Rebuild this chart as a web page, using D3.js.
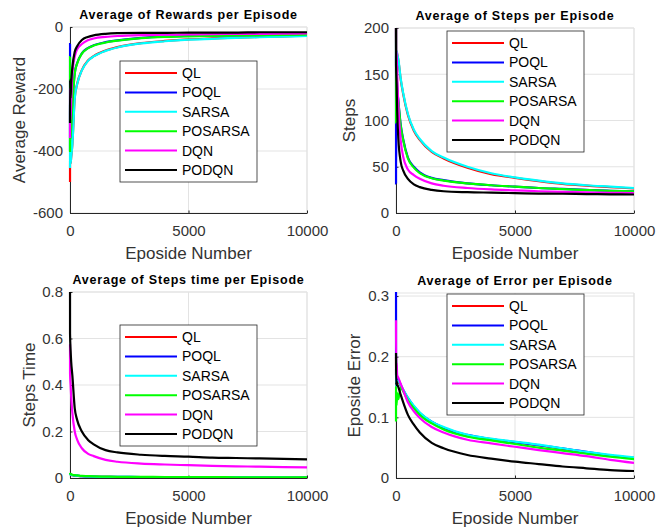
<!DOCTYPE html>
<html>
<head>
<meta charset="utf-8">
<script src="https://cdn.jsdelivr.net/npm/d3@7"></script>
<style>
  body { margin: 0; background: #fff; }
  svg { font-family: "Liberation Sans", Arial, sans-serif; }
</style>
</head>
<body>
<svg id="chart" width="657" height="532"></svg>
<script>
const episodes = [1, 2, 25, 50, 100, 200, 300, 500, 750, 1000, 1500, 2000, 3000, 4000, 5000, 6000, 7000, 8000, 9000, 10000];
const seriesNames = ["QL", "POQL", "SARSA", "POSARSA", "DQN", "PODQN"];
const seriesColors = ["#ff0000", "#0000ff", "#00ffff", "#00ff00", "#ff00ff", "#000000"];

// Average of Rewards per Episode
const rewardQL      = [-500, -300, -440, -420, -378, -228, -184, -139, -109, -94, -76, -65, -52, -45, -40, -37, -34, -32, -30, -28];
const rewardPOQL    = [-400, -55, -360, -318, -248, -149, -117, -85, -68, -59, -49, -43, -35, -31, -29, -28, -27, -26, -25, -24];
const rewardSARSA   = [-455, -250, -440, -420, -380, -230, -185, -140, -110, -95, -77, -66, -53, -46, -41, -38, -35, -33, -31, -29];
const rewardPOSARSA = [-403, -97, -360, -320, -250, -150, -118, -86, -69, -60, -50, -44, -36, -32, -30, -28.5, -27.5, -26.5, -25.5, -25];
const rewardDQN     = [-358, -200, -300, -240, -150, -95, -72, -55, -43, -37, -32, -29, -26, -25, -24, -23, -22.5, -22, -21.5, -21];
const rewardPODQN   = [-310, -170, -230, -180, -130, -80, -62, -42, -32, -27, -22, -20, -19, -19, -18, -18, -18, -17, -17, -17];

// Average of Steps per Episode
const stepsQL      = [200, 150, 175, 172, 165, 144, 129, 106, 89, 79, 66, 59, 49, 42, 38, 34.5, 31.5, 29.5, 28, 26.5];
const stepsPOQL    = [200, 32, 150, 136, 121, 95, 80, 60, 50, 44, 38, 35.5, 32, 30, 28.5, 27, 26, 25, 24, 23.5];
const stepsSARSA   = [170, 150, 175, 172, 166, 145, 130, 107, 90, 80, 67, 60, 50, 43, 38.5, 35, 32, 30, 28.5, 27];
const stepsPOSARSA = [200, 98, 150, 135, 120, 94, 79, 59, 49, 43, 37.5, 35, 32, 30, 28.5, 27, 25.8, 24.8, 24, 23.5];
const stepsDQN     = [200, 165, 175, 150, 115, 78, 61, 47, 41, 37, 32, 29.5, 27, 25.5, 24.5, 23.5, 22.8, 22.2, 21.8, 21.5];
const stepsPODQN   = [200, 160, 140, 110, 80, 55, 46, 37, 31, 28, 25, 23.5, 22.5, 22, 21.5, 21, 20.8, 20.5, 20.2, 20];

// Average of Steps time per Episode
const timeQL      = [0.018, 0.016, 0.015, 0.013, 0.012, 0.01, 0.009, 0.008, 0.007, 0.006, 0.005, 0.004, 0.004, 0.003, 0.003, 0.003, 0.003, 0.002, 0.002, 0.002];
const timePOQL    = [0.02, 0.018, 0.016, 0.015, 0.013, 0.011, 0.01, 0.008, 0.007, 0.006, 0.005, 0.005, 0.004, 0.004, 0.003, 0.003, 0.003, 0.003, 0.002, 0.002];
const timeSARSA   = [0.019, 0.017, 0.015, 0.014, 0.012, 0.011, 0.01, 0.008, 0.007, 0.006, 0.005, 0.005, 0.004, 0.004, 0.003, 0.003, 0.003, 0.003, 0.003, 0.002];
const timePOSARSA = [0.022, 0.02, 0.018, 0.016, 0.014, 0.012, 0.011, 0.009, 0.008, 0.007, 0.006, 0.005, 0.005, 0.004, 0.004, 0.004, 0.003, 0.003, 0.003, 0.003];
const timeDQN     = [0.575, 0.45, 0.4, 0.35, 0.28, 0.2, 0.165, 0.128, 0.105, 0.094, 0.078, 0.07, 0.062, 0.058, 0.055, 0.052, 0.05, 0.049, 0.047, 0.046];
const timePODQN   = [0.8, 0.62, 0.55, 0.5, 0.44, 0.3, 0.25, 0.2, 0.165, 0.145, 0.12, 0.11, 0.1, 0.095, 0.092, 0.088, 0.086, 0.084, 0.082, 0.08];

// Average of Error per Episode
const errorQL      = [0.2, 0.17, 0.16, 0.155, 0.16, 0.152, 0.145, 0.131, 0.118, 0.107, 0.092, 0.083, 0.07, 0.064, 0.059, 0.054, 0.048, 0.042, 0.037, 0.033];
const errorPOQL    = [0.31, 0.2, 0.165, 0.16, 0.162, 0.153, 0.145, 0.132, 0.118, 0.107, 0.093, 0.083, 0.071, 0.064, 0.059, 0.054, 0.049, 0.043, 0.037, 0.033];
const errorSARSA   = [0.18, 0.15, 0.155, 0.158, 0.16, 0.153, 0.146, 0.132, 0.119, 0.108, 0.093, 0.084, 0.071, 0.065, 0.06, 0.055, 0.049, 0.043, 0.038, 0.034];
const errorPOSARSA = [0.093, 0.15, 0.12, 0.14, 0.13, 0.15, 0.143, 0.128, 0.115, 0.104, 0.09, 0.08, 0.068, 0.062, 0.056, 0.05, 0.045, 0.04, 0.035, 0.031];
const errorDQN     = [0.26, 0.19, 0.19, 0.17, 0.165, 0.155, 0.145, 0.125, 0.11, 0.099, 0.084, 0.075, 0.063, 0.057, 0.0515, 0.046, 0.041, 0.036, 0.03, 0.025];
const errorPODQN   = [0.206, 0.153, 0.16, 0.155, 0.15, 0.137, 0.125, 0.104, 0.088, 0.075, 0.058, 0.049, 0.038, 0.032, 0.027, 0.023, 0.019, 0.016, 0.013, 0.0115];

const xTicks = [0, 5000, 10000];

const panels = [
  { title: "Average of Rewards per Episode", ylabel: "Average Reward",
    series: [rewardQL, rewardPOQL, rewardSARSA, rewardPOSARSA, rewardDQN, rewardPODQN],
    yDomain: [-600, 0], yTicks: [-600, -400, -200, 0],
    left: 70, top: 27, width: 237, height: 186, ylabelX: -45, legend: [50, 34] },
  { title: "Average of Steps per Episode", ylabel: "Steps",
    series: [stepsQL, stepsPOQL, stepsSARSA, stepsPOSARSA, stepsDQN, stepsPODQN],
    yDomain: [0, 200], yTicks: [0, 50, 100, 150, 200],
    left: 396, top: 28, width: 238, height: 185, ylabelX: -41, legend: [51, 3] },
  { title: "Average of Steps time per Episode", ylabel: "Steps Time",
    series: [timeQL, timePOQL, timeSARSA, timePOSARSA, timeDQN, timePODQN],
    yDomain: [0, 0.8], yTicks: [0, 0.2, 0.4, 0.6, 0.8],
    left: 70, top: 292, width: 237, height: 186, ylabelX: -35, legend: [50, 33] },
  { title: "Average of Error per Episode", ylabel: "Eposide Error",
    series: [errorQL, errorPOQL, errorSARSA, errorPOSARSA, errorDQN, errorPODQN],
    yDomain: [0, 0.305], yTicks: [0, 0.1, 0.2, 0.3],
    left: 396, top: 293, width: 238, height: 185, ylabelX: -36, legend: [51, 1] }
];

const svg = d3.select("#chart");
const axisColor = "#262626";

panels.forEach((p, pi) => {
  const g = svg.append("g").attr("transform", `translate(${p.left},${p.top})`);

  const x = d3.scaleLinear().domain([0, 10000]).range([0, p.width]);
  const y = d3.scaleLinear().domain(p.yDomain).range([p.height, 0]);

  // grid lines
  g.append("g")
    .selectAll("line.gx")
    .data(xTicks)
    .enter().append("line")
    .attr("x1", d => x(d)).attr("x2", d => x(d))
    .attr("y1", 0).attr("y2", p.height)
    .attr("stroke", "#e3e3e3");
  g.append("g")
    .selectAll("line.gy")
    .data(p.yTicks)
    .enter().append("line")
    .attr("x1", 0).attr("x2", p.width)
    .attr("y1", d => y(d)).attr("y2", d => y(d))
    .attr("stroke", "#e3e3e3");
  // top edge / right edge in light grey (box off)
  g.append("line").attr("x1", 0).attr("x2", p.width).attr("y1", 0).attr("y2", 0).attr("stroke", "#e3e3e3");
  g.append("line").attr("x1", p.width).attr("x2", p.width).attr("y1", 0).attr("y2", p.height).attr("stroke", "#e3e3e3");

  // axes (drawn under the data, like the original)
  const xAxis = g.append("g")
    .attr("transform", `translate(0,${p.height})`)
    .call(d3.axisBottom(x).tickValues(xTicks).tickFormat(d => String(d))
      .tickSizeInner(-2.5).tickSizeOuter(0).tickPadding(12));
  const yAxis = g.append("g")
    .call(d3.axisLeft(y).tickValues(p.yTicks).tickFormat(d => String(d))
      .tickSizeInner(-2.5).tickSizeOuter(0).tickPadding(7));
  [xAxis, yAxis].forEach(a => {
    a.select(".domain").attr("stroke", axisColor);
    a.selectAll(".tick line").attr("stroke", axisColor);
    a.selectAll(".tick text").attr("fill", "#333").style("font-size", "15px")
      .style("font-family", "'Liberation Sans', Arial, sans-serif");
  });

  // clip for the curves (a little wider so the line width at the edge shows)
  const clipId = "clip" + pi;
  g.append("clipPath").attr("id", clipId)
    .append("rect").attr("x", -2).attr("y", -1).attr("width", p.width + 2).attr("height", p.height + 1);

  const line = d3.line()
    .x((d, i) => x(episodes[i]))
    .y(d => y(d))
    .curve(d3.curveMonotoneX);

  g.append("g").attr("clip-path", `url(#${clipId})`)
    .selectAll("path")
    .data(p.series)
    .enter().append("path")
    .attr("d", d => line(d))
    .attr("fill", "none")
    .attr("stroke", (d, i) => seriesColors[i])
    .attr("stroke-width", 2.2);

  // title
  g.append("text")
    .attr("x", p.width / 2).attr("y", -8)
    .attr("text-anchor", "middle")
    .style("font-size", "12.5px").style("font-weight", "bold")
    .style("letter-spacing", "0.8px")
    .attr("fill", "#000")
    .text(p.title);

  // axis labels
  g.append("text")
    .attr("x", p.width / 2).attr("y", p.height + 46)
    .attr("text-anchor", "middle")
    .style("font-size", "17px").attr("fill", "#333")
    .text("Eposide Number");
  g.append("text")
    .attr("transform", `translate(${p.ylabelX},${p.height / 2}) rotate(-90)`)
    .attr("text-anchor", "middle")
    .style("font-size", "17px").attr("fill", "#333")
    .text(p.ylabel);

  // legend
  const lg = g.append("g").attr("transform", `translate(${p.legend[0]},${p.legend[1]})`);
  lg.append("rect")
    .attr("width", 137).attr("height", 121)
    .attr("fill", "#fff").attr("stroke", axisColor).attr("stroke-width", 0.8);
  const rows = lg.selectAll("g.row")
    .data(seriesNames)
    .enter().append("g")
    .attr("transform", (d, i) => `translate(0,${12 + i * 19.4})`);
  rows.append("line")
    .attr("x1", 5).attr("x2", 57)
    .attr("stroke", (d, i) => seriesColors[i])
    .attr("stroke-width", 2);
  rows.append("text")
    .attr("x", 62).attr("dy", "0.36em")
    .style("font-size", "14px").attr("fill", "#000")
    .text(d => d);
});
</script>
</body>
</html>
